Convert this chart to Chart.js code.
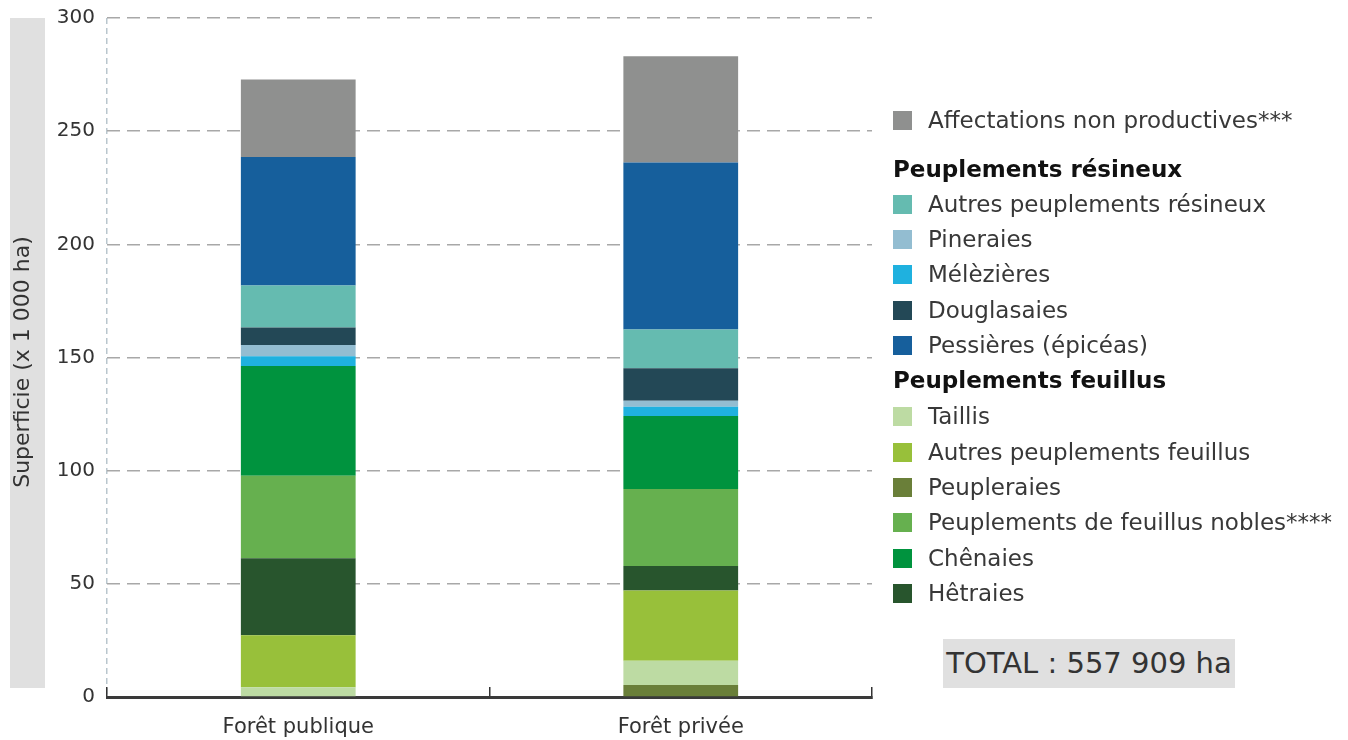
<!DOCTYPE html>
<html lang="fr">
<head>
<meta charset="utf-8">
<title>Superficie forestière</title>
<script src="https://cdn.jsdelivr.net/npm/chart.js@4/dist/chart.umd.min.js"></script>
<style>
  body { margin: 0; background: #fff; font-family: "DejaVu Sans", sans-serif; overflow: hidden; }
  #wrap { position: relative; width: 1348px; height: 740px; }
  #chart { position: absolute; left: 0; top: 0; }
  #ytitle-box { position: absolute; left: 10px; top: 18px; width: 35px; height: 670px; background: #e0e0e0; }
  #ytitle { position: absolute; left: 22px; top: 362px; transform: translate(-50%, -50%) rotate(-90deg);
            white-space: nowrap; font-size: 22px; line-height: 1; color: #333; }
  #legend { position: absolute; left: 893px; top: 0; }
  .row { position: absolute; left: 0; height: 24px; display: flex; align-items: center; white-space: nowrap; }
  .sw { width: 19px; height: 19px; margin-right: 16px; }
  .lbl { font-size: 23px; line-height: 1; color: #383838; }
  .head { font-size: 23px; line-height: 1; font-weight: bold; color: #111; }
  #total { position: absolute; left: 943px; top: 639px; width: 292px; height: 49px; background: #e0e0e0;
           font-size: 29px; line-height: 49px; text-align: center; color: #333; }
</style>
</head>
<body>
<div id="wrap">
  <canvas id="chart" width="1348" height="740"></canvas>
  <div id="ytitle-box"></div>
  <div id="ytitle">Superficie (x 1 000 ha)</div>
  <div id="legend"></div>
  <div id="total">TOTAL : 557 909 ha</div>
</div>
<script>
// categories on the x axis
const categories = ['Forêt publique', 'Forêt privée'];

// series, stacked from the bottom up: [forêt publique, forêt privée] (x 1 000 ha)
const peupleraies = [0, 5.3];
const taillis = [4.3, 10.7];
const autresFeuillus = [23.0, 31.0];
const hetraies = [34.0, 10.9];
const feuillusNobles = [36.4, 34.0];
const chenaies = [48.5, 32.2];
const melezieres = [4.3, 4.1];
const pineraies = [5.0, 2.7];
const douglasaies = [7.8, 14.4];
const autresResineux = [18.5, 17.1];
const pessieres = [56.8, 73.8];
const nonProductives = [34.2, 46.9];

const yTicks = [0, 50, 100, 150, 200, 250, 300];

const series = [
  { label: 'Peupleraies', data: peupleraies, color: '#6a7f39' },
  { label: 'Taillis', data: taillis, color: '#bddba3' },
  { label: 'Autres peuplements feuillus', data: autresFeuillus, color: '#98c03a' },
  { label: 'Hêtraies', data: hetraies, color: '#28552d' },
  { label: 'Peuplements de feuillus nobles****', data: feuillusNobles, color: '#66b04f' },
  { label: 'Chênaies', data: chenaies, color: '#00933e' },
  { label: 'Mélèzières', data: melezieres, color: '#1fb1df' },
  { label: 'Pineraies', data: pineraies, color: '#93bdd1' },
  { label: 'Douglasaies', data: douglasaies, color: '#234856' },
  { label: 'Autres peuplements résineux', data: autresResineux, color: '#65bbb0' },
  { label: 'Pessières (épicéas)', data: pessieres, color: '#165f9c' },
  { label: 'Affectations non productives***', data: nonProductives, color: '#8f908f' }
];

// legend layout: headers and items, in the order of the original
const legendRows = [
  { item: 'Affectations non productives***', y: 120 },
  { head: 'Peuplements résineux', y: 169 },
  { item: 'Autres peuplements résineux', y: 204 },
  { item: 'Pineraies', y: 239 },
  { item: 'Mélèzières', y: 274.5 },
  { item: 'Douglasaies', y: 310 },
  { item: 'Pessières (épicéas)', y: 345.5 },
  { head: 'Peuplements feuillus', y: 380 },
  { item: 'Taillis', y: 416 },
  { item: 'Autres peuplements feuillus', y: 452 },
  { item: 'Peupleraies', y: 487 },
  { item: 'Peuplements de feuillus nobles****', y: 522 },
  { item: 'Chênaies', y: 558 },
  { item: 'Hêtraies', y: 593 }
];

function buildLegend() {
  const legend = document.getElementById('legend');
  legendRows.forEach(r => {
    const row = document.createElement('div');
    row.className = 'row';
    row.style.top = (r.y - 12) + 'px';
    if (r.head) {
      const h = document.createElement('span');
      h.className = 'head';
      h.textContent = r.head;
      row.appendChild(h);
    } else {
      const s = series.find(x => x.label === r.item);
      const sw = document.createElement('span');
      sw.className = 'sw';
      sw.style.background = s.color;
      const t = document.createElement('span');
      t.className = 'lbl';
      t.textContent = r.item;
      row.appendChild(sw);
      row.appendChild(t);
    }
    legend.appendChild(row);
  });
}

function buildChart() {
  const ctx = document.getElementById('chart').getContext('2d');
  new Chart(ctx, {
    type: 'bar',
    data: {
      labels: categories,
      datasets: series.map(s => ({
        label: s.label,
        data: s.data,
        backgroundColor: s.color,
        borderWidth: 0,
        barPercentage: 0.3,
        categoryPercentage: 1
      }))
    },
    options: {
      responsive: false,
      animation: false,
      layout: { padding: { left: 0, right: 476, top: 18, bottom: 0 } },
      plugins: { legend: { display: false }, tooltip: { enabled: false } },
      scales: {
        x: {
          stacked: true,
          afterFit: scale => {
            scale.height = 43;
            scale.paddingLeft = 0;
            scale.paddingRight = 0;
          },
          grid: {
            drawOnChartArea: true,
            color: c => (c.index === 0 ? '#b9c6cd' : 'rgba(0,0,0,0)'),
            lineWidth: 1.5,
            tickColor: '#333',
            tickWidth: 1.5,
            tickLength: -10
          },
          border: { display: true, color: '#3a3a3a', width: 3, dash: [6, 4] },
          ticks: { color: '#333', padding: 28, font: { family: 'DejaVu Sans', size: 21 } }
        },
        y: {
          stacked: true,
          min: 0,
          max: 300,
          afterFit: scale => {
            scale.width = 107;
            scale.paddingTop = 0;
            scale.paddingBottom = 0;
          },
          afterBuildTicks: scale => { scale.ticks = yTicks.map(v => ({ value: v })); },
          grid: { color: '#a8a8a8', lineWidth: 1.5, drawTicks: false },
          border: { display: false, dash: [13, 7] },
          ticks: { color: '#333', padding: 12, font: { family: 'DejaVu Sans', size: 20 } }
        }
      }
    }
  });
}

buildLegend();
buildChart();
</script>
</body>
</html>
